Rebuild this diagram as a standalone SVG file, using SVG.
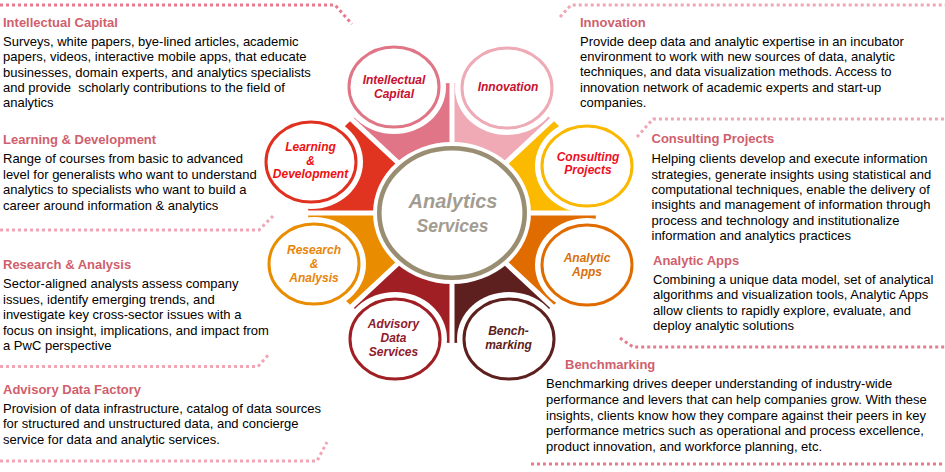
<svg xmlns="http://www.w3.org/2000/svg" width="945" height="472" viewBox="0 0 945 472">
<style>
text{font-family:"Liberation Sans",Arial,sans-serif}
.h{font-size:13px;font-weight:bold;fill:#cf5f6d}
.b{font-size:13px;fill:#000}
.lbl{font-size:12px;font-weight:bold;font-style:italic;text-anchor:middle}
.halo{fill:#fff}
.ring{fill:#fff;stroke-width:3}
.dl{fill:none;stroke:#f0a6b5;stroke-width:3;stroke-dasharray:3 3}
.dd{stroke:#e77a8f}
</style>
<defs>
<clipPath id="outer"><ellipse cx="452" cy="213" rx="144" ry="130"/></clipPath>
</defs>
<rect width="945" height="472" fill="#fff"/>

<g id="separators">
<path class="dl dd" d="M0,5 H335 L352,24"/>
<path class="dl" d="M0,230 H259 L273,216"/>
<path class="dl" d="M0,366.5 H258 L270,353"/>
<path class="dl" d="M0,461 H317 L327,442"/>
<path class="dl" d="M560,17 L571,5 H945"/>
<path class="dl" d="M637,137 L653,119 H945"/>
<path class="dl dd" d="M620,338 L633,347 H945"/>
<path class="dl dd" d="M531,464 H945"/>
</g>

<g id="panel-intellectual-capital">
<text class="h" x="3" y="27">Intellectual Capital</text>
<text class="b"><tspan x="3" y="46">Surveys, white papers, bye-lined articles, academic</tspan><tspan x="3" y="61.3">papers, videos, interactive mobile apps, that educate</tspan><tspan x="3" y="76.6">businesses, domain experts, and analytics specialists</tspan><tspan x="3" y="92" style="white-space:pre">and provide  scholarly contributions to the field of</tspan><tspan x="3" y="107.3">analytics</tspan></text>
</g>
<g id="panel-learning-development">
<text class="h" x="3" y="144">Learning &amp; Development</text>
<text class="b"><tspan x="3" y="163.3">Range of courses from basic to advanced</tspan><tspan x="3" y="178.8">level for generalists who want to understand</tspan><tspan x="3" y="194.3">analytics to specialists who want to build a</tspan><tspan x="3" y="209.8">career around information &amp; analytics</tspan></text>
</g>
<g id="panel-research-analysis">
<text class="h" x="3" y="269">Research &amp; Analysis</text>
<text class="b"><tspan x="3" y="288">Sector-aligned analysts assess company</tspan><tspan x="3" y="303.6">issues, identify emerging trends, and</tspan><tspan x="3" y="319.2">investigate key cross-sector issues with a</tspan><tspan x="3" y="334.8">focus on insight, implications, and impact from</tspan><tspan x="3" y="350.4">a PwC perspective</tspan></text>
</g>
<g id="panel-advisory-data-factory">
<text class="h" x="3" y="394">Advisory Data Factory</text>
<text class="b"><tspan x="3" y="412.7">Provision of data infrastructure, catalog of data sources</tspan><tspan x="3" y="428.3">for structured and unstructured data, and concierge</tspan><tspan x="3" y="443.9">service for data and analytic services.</tspan></text>
</g>
<g id="panel-innovation">
<text class="h" x="580" y="26.7">Innovation</text>
<text class="b"><tspan x="580" y="45.7">Provide deep data and analytic expertise in an incubator</tspan><tspan x="580" y="61">environment to work with new sources of data, analytic</tspan><tspan x="580" y="76.3">techniques, and data visualization methods. Access to</tspan><tspan x="580" y="91.6">innovation network of academic experts and start-up</tspan><tspan x="580" y="106.9">companies.</tspan></text>
</g>
<g id="panel-consulting-projects">
<text class="h" x="651.5" y="143.3">Consulting Projects</text>
<text class="b"><tspan x="651.5" y="163.3">Helping clients develop and execute information</tspan><tspan x="651.5" y="178.6">strategies, generate insights using statistical and</tspan><tspan x="651.5" y="193.9">computational techniques, enable the delivery of</tspan><tspan x="651.5" y="209.2">insights and management of information through</tspan><tspan x="651.5" y="224.5">process and technology and institutionalize</tspan><tspan x="651.5" y="239.8">information and analytics practices</tspan></text>
</g>
<g id="panel-analytic-apps">
<text class="h" x="653" y="265">Analytic Apps</text>
<text class="b"><tspan x="653" y="284">Combining a unique data model, set of analytical</tspan><tspan x="653" y="299.4">algorithms and visualization tools, Analytic Apps</tspan><tspan x="653" y="314.8">allow clients to rapidly explore, evaluate, and</tspan><tspan x="653" y="330.2">deploy analytic solutions</tspan></text>
</g>
<g id="panel-benchmarking">
<text class="h" x="565" y="369.3">Benchmarking</text>
<text class="b"><tspan x="546" y="388.3">Benchmarking drives deeper understanding of industry-wide</tspan><tspan x="546" y="404">performance and levers that can help companies grow. With these</tspan><tspan x="546" y="419.7">insights, clients know how they compare against their peers in key</tspan><tspan x="546" y="435.4">performance metrics such as operational and process excellence,</tspan><tspan x="546" y="451.1">product innovation, and workforce planning, etc.</tspan></text>
</g>

<g id="node-intellectual-capital">
<path d="M449.5,207.25 L307.43,74.77 L449.5,13 Z" fill="#e17588" clip-path="url(#outer)"/>
<ellipse class="halo" cx="394" cy="87" rx="52" ry="47"/>
<ellipse class="ring" cx="394" cy="87" rx="45" ry="40" stroke="#e07585"/>
<text class="lbl" fill="#c8102e"><tspan x="394" y="84">Intellectual</tspan><tspan x="394" y="97.5">Capital</tspan></text>
</g>
<g id="node-innovation">
<path d="M454.5,207.25 L454.5,13 L596.58,74.77 Z" fill="#efaab6" clip-path="url(#outer)"/>
<ellipse class="halo" cx="507" cy="88" rx="52" ry="47"/>
<ellipse class="ring" cx="507" cy="88" rx="45" ry="40" stroke="#eeaab5"/>
<text class="lbl" fill="#c8102e" x="508" y="91">Innovation</text>
</g>
<g id="node-consulting-projects">
<path d="M458.35,210.5 L599.99,78.43 L652,210.5 Z" fill="#fbb900" clip-path="url(#outer)"/>
<ellipse class="halo" cx="587" cy="166" rx="52" ry="47"/>
<ellipse class="ring" cx="587" cy="166" rx="45" ry="40" stroke="#fbb800"/>
<text class="lbl" fill="#ee0f1f"><tspan x="588" y="160.7">Consulting</tspan><tspan x="588" y="174.3">Projects</tspan></text>
</g>
<g id="node-analytic-apps">
<path d="M458.35,215.5 L652,215.5 L599.99,347.57 Z" fill="#e06c00" clip-path="url(#outer)"/>
<ellipse class="halo" cx="587" cy="265" rx="52" ry="47"/>
<ellipse class="ring" cx="587" cy="265" rx="45" ry="40" stroke="#e06c00"/>
<text class="lbl" fill="#d9700b"><tspan x="587" y="261.7">Analytic</tspan><tspan x="587" y="275.5">Apps</tspan></text>
</g>
<g id="node-benchmarking">
<path d="M454.5,218.75 L596.58,351.23 L454.5,413 Z" fill="#5e1f1f" clip-path="url(#outer)"/>
<ellipse class="halo" cx="509" cy="339" rx="52" ry="47"/>
<ellipse class="ring" cx="509" cy="339" rx="45" ry="40" stroke="#5e1f1f"/>
<text class="lbl" fill="#5b1c1c"><tspan x="508.5" y="335">Bench-</tspan><tspan x="508.5" y="348.5">marking</tspan></text>
</g>
<g id="node-advisory-data-services">
<path d="M449.5,218.75 L449.5,413 L307.43,351.23 Z" fill="#a01f24" clip-path="url(#outer)"/>
<ellipse class="halo" cx="395" cy="339" rx="52" ry="47"/>
<ellipse class="ring" cx="395" cy="339" rx="45" ry="40" stroke="#a01f24"/>
<text class="lbl" fill="#8e1b2c"><tspan x="393.5" y="327.7">Advisory</tspan><tspan x="393.5" y="341.5">Data</tspan><tspan x="393.5" y="355.5">Services</tspan></text>
</g>
<g id="node-research-analysis">
<path d="M445.65,215.5 L304.02,347.57 L252,215.5 Z" fill="#ea8c00" clip-path="url(#outer)"/>
<ellipse class="halo" cx="314" cy="264" rx="52" ry="47"/>
<ellipse class="ring" cx="314" cy="264" rx="45" ry="40" stroke="#ea8c00"/>
<text class="lbl" fill="#e8850c"><tspan x="314" y="254">Research</tspan><tspan x="314" y="267.7">&amp;</tspan><tspan x="314" y="281.5">Analysis</tspan></text>
</g>
<g id="node-learning-development">
<path d="M445.65,210.5 L252,210.5 L304.02,78.43 Z" fill="#e03421" clip-path="url(#outer)"/>
<ellipse class="halo" cx="311" cy="162" rx="52" ry="47"/>
<ellipse class="ring" cx="311" cy="162" rx="45" ry="40" stroke="#e03020"/>
<text class="lbl" fill="#ee1111"><tspan x="310.5" y="151">Learning</tspan><tspan x="310.5" y="164.5">&amp;</tspan><tspan x="310.5" y="178">Development</tspan></text>
</g>

<g id="node-analytics-services">
<ellipse cx="452" cy="213" rx="79" ry="71" fill="#fff"/>
<ellipse cx="452" cy="213" rx="72.7" ry="64.7" fill="#fff" stroke="#9a8e72" stroke-width="4.6"/>
<text style="font-weight:bold;font-style:italic;text-anchor:middle" fill="#a39c91"><tspan x="453" y="208" font-size="20">Analytics</tspan><tspan x="452.5" y="231.5" font-size="17.5">Services</tspan></text>
</g>
</svg>
